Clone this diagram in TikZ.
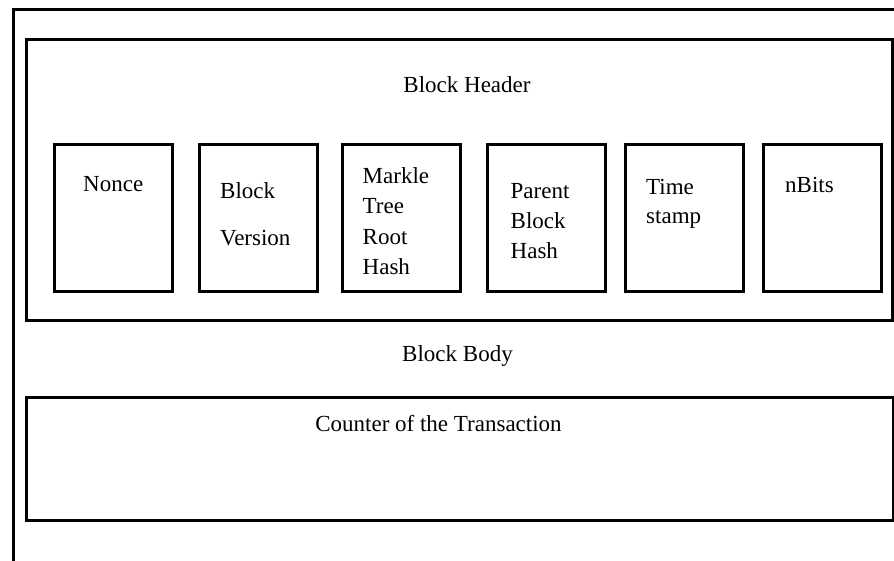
\documentclass[tikz,border=0pt]{standalone}
\usepackage{fontspec}
\setmainfont{Liberation Serif}
\begin{document}
\begin{tikzpicture}[x=1pt,y=-1pt,
  frame/.style={draw=black,line width=3pt},
  fieldbox/.style={draw=black,line width=3pt,minimum width=118pt,minimum height=147pt,inner sep=0pt},
  txt/.style={inner sep=0pt,font=\fontsize{23}{30.5}\selectfont,align=left}]
\useasboundingbox (0,0) rectangle (894,561);
\begin{scope}
\clip (0,0) rectangle (894,561);
\draw[frame] (13,10) rectangle (900,580);
\end{scope}
\draw[frame] (26,40) rectangle (892,320);
\draw[frame] (26,397) rectangle (893,520);
\node[txt,anchor=base] (hdr) at (467,93) {Block Header};
\node[txt,anchor=base] (body) at (457.5,361) {Block Body};
\node[txt,anchor=base] (ctr) at (438.5,431.5) {Counter of the Transaction};
\node[fieldbox] (b1) at (113,218.5) {};
\node[fieldbox] (b2) at (258,218.5) {};
\node[fieldbox] (b3) at (401,218.5) {};
\node[fieldbox] (b4) at (546,218.5) {};
\node[fieldbox] (b5) at (684.5,218.5) {};
\node[fieldbox] (b6) at (822,218.5) {};
\node[txt,anchor=base west] (t1) at (83,192) {Nonce};
\node[txt,anchor=north west,font=\fontsize{23}{47}\selectfont] (t2) at (220,182.3) {Block\\Version};
\node[txt,anchor=north west] (t3) at (362.5,167.3) {Markle\\Tree\\Root\\Hash};
\node[txt,anchor=north west,font=\fontsize{23}{30}\selectfont] (t4) at (510.5,182.8) {Parent\\Block\\Hash};
\node[txt,anchor=north west,font=\fontsize{23}{29}\selectfont] (t5) at (646,179.3) {Time\\stamp};
\node[txt,anchor=base west] (t6) at (785,193) {nBits};
\end{tikzpicture}
\end{document}
